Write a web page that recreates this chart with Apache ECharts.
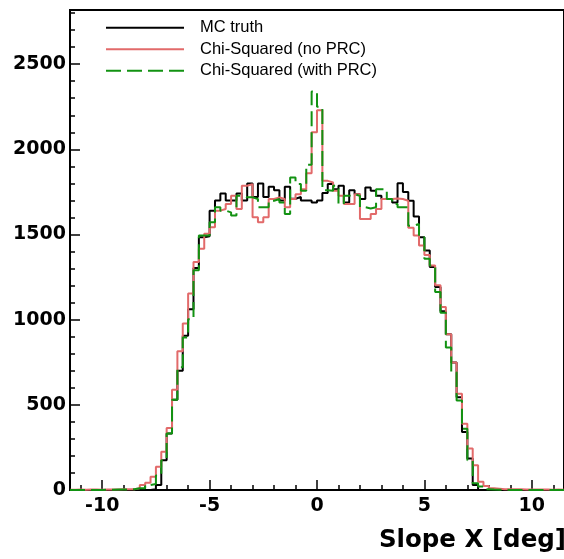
<!DOCTYPE html>
<html><head><meta charset="utf-8">
<script src="https://cdn.jsdelivr.net/npm/echarts@6/dist/echarts.min.js"></script>
<style>html,body{margin:0;padding:0;background:#fff}#c{width:564px;height:559px}</style>
</head><body><div id="c"></div>
<script>
// Histogram definition: 92 bins of width 0.25 from -11.5 to 11.5
const binLow = -11.5;
const binWidth = 0.25;

const mcTruth = [
  0,0,0,0,0,0,0,0,0,0, 0,0,0,0,0,5,30,175,331,530,
  700,905,1061,1303,1484,1490,1640,1700,1740,1700, 1700,1740,1700,1800,1720,1800,1720,1780,1760,1700,
  1780,1710,1720,1700,1700,1688,1700,1743,1796,1766, 1786,1688,1760,1737,1708,1776,1757,1727,1708,1708,
  1688,1801,1750,1698,1605,1484,1406,1309,1192,1050, 915,749,545,340,185,29,0,0,0,0,
  0,0,0,0,0,0,0,0,0,0, 0,0
];
const chiNoPRC = [
  2,3,2,3,3,2,3,3,3,5, 5,5,10,29,43,78,136,224,364,588,
  814,977,1153,1338,1416,1504,1542,1640,1650,1679, 1727,1650,1786,1796,1601,1572,1601,1708,1718,1708,
  1660,1708,1737,1766,1860,2100,2230,1815,1805,1757, 1727,1679,1679,1737,1591,1591,1620,1650,1708,1708,
  1712,1708,1698,1540,1494,1435,1380,1318,1202,1075, 915,749,565,389,243,146,49,23,10,8,
  5,5,4,4,3,3,3,3,3,2, 3,2
];
const chiWithPRC = [
  0,0,0,0,0,0,2,2,3,3, 3,5,10,10,29,35,85,175,331,530,
  720,895,1003,1290,1494,1494,1572,1660,1640,1630, 1611,1727,1718,1718,1708,1660,1660,1698,1708,1688,
  1620,1834,1796,1757,1910,2340,2250,1760,1757,1786, 1679,1727,1737,1727,1660,1653,1660,1766,1766,1708,
  1679,1660,1660,1552,1562,1484,1357,1318,1163,1040, 837,691,526,360,175,39,20,5,3,2,
  2,0,0,0,0,0,0,0,0,0, 0,0
];

const seriesNames = ['MC truth', 'Chi-Squared (no PRC)', 'Chi-Squared (with PRC)'];
const xMajorTicks = [-10, -5, 0, 5, 10];
const xMinorTicks = [-11,-9,-8,-7,-6,-4,-3,-2,-1,1,2,3,4,6,7,8,9,11];
const yMajorTicks = [0, 500, 1000, 1500, 2000, 2500];
const yMinorTicks = [100,200,300,400,600,700,800,900,1100,1200,1300,1400,1600,1700,1800,1900,2100,2200,2300,2400,2600,2700,2800];
const xTitle = 'Slope X [deg]';

const colors = ['#000000', '#e26a6a', '#129212'];
const dashes = [null, null, [15, 6]];

function toSteps(vals) {
  const pts = vals.map((v, i) => [binLow + i * binWidth, v]);
  pts.push([binLow + vals.length * binWidth, vals[vals.length - 1]]);
  return pts;
}

const chart = echarts.init(document.getElementById('c'), null, {renderer: 'canvas'});
const XMIN = -11.5, XMAX = 11.5, YMAX = 2818;
const labelFont = {fontFamily: 'DejaVu Sans', fontWeight: 'bold', fontSize: 19, color: '#000'};
const plain = v => String(v);

// legend drawn as graphic rows (line sample + text)
const legendRowsY = [27.7, 49.3, 70.7];
const legendGraphics = [];
seriesNames.forEach((name, i) => {
  const st = {stroke: colors[i], lineWidth: 2};
  if (dashes[i]) st.lineDash = dashes[i];
  legendGraphics.push({type: 'line', z: 10, shape: {x1: 106, y1: legendRowsY[i], x2: 184, y2: legendRowsY[i]}, style: st});
  legendGraphics.push({type: 'text', z: 10, x: 200, y: legendRowsY[i],
    style: {text: name, textVerticalAlign: 'middle', font: '16.5px "Liberation Sans"', fill: '#000'}});
});

chart.setOption({
  animation: false,
  backgroundColor: '#fff',
  grid: {left: 70, top: 10, width: 495.4, height: 480, show: true, borderColor: '#000', borderWidth: 2, backgroundColor: 'transparent'},
  xAxis: [
    {type: 'value', min: XMIN, max: XMAX, position: 'bottom',
     axisLine: {show: true, onZero: false, lineStyle: {color: '#000', width: 2}},
     axisTick: {show: true, inside: true, length: 10, customValues: xMajorTicks, lineStyle: {color: '#000', width: 1.5}},
     axisLabel: Object.assign({customValues: xMajorTicks, margin: 7, formatter: plain}, labelFont),
     splitLine: {show: false}},
    {type: 'value', min: XMIN, max: XMAX, position: 'bottom',
     axisLine: {show: false, onZero: false},
     axisTick: {show: true, inside: true, length: 5, customValues: xMinorTicks, lineStyle: {color: '#000', width: 1.5}},
     axisLabel: {show: false}, splitLine: {show: false}}
  ],
  yAxis: [
    {type: 'value', min: 0, max: YMAX, position: 'left',
     axisLine: {show: true, onZero: false, lineStyle: {color: '#000', width: 2}},
     axisTick: {show: true, inside: true, length: 10, customValues: yMajorTicks, lineStyle: {color: '#000', width: 1.5}},
     axisLabel: Object.assign({customValues: yMajorTicks, margin: 4, formatter: plain}, labelFont),
     splitLine: {show: false}},
    {type: 'value', min: 0, max: YMAX, position: 'left',
     axisLine: {show: false, onZero: false},
     axisTick: {show: true, inside: true, length: 5, customValues: yMinorTicks, lineStyle: {color: '#000', width: 1.5}},
     axisLabel: {show: false}, splitLine: {show: false}}
  ],
  series: [
    {name: seriesNames[0], type: 'line', step: 'end', symbol: 'none', data: toSteps(mcTruth),
     lineStyle: {color: colors[0], width: 2}, itemStyle: {color: colors[0]}, z: 2},
    {name: seriesNames[1], type: 'line', step: 'end', symbol: 'none', data: toSteps(chiNoPRC),
     lineStyle: {color: colors[1], width: 2}, itemStyle: {color: colors[1]}, z: 3},
    {name: seriesNames[2], type: 'line', step: 'end', symbol: 'none', data: toSteps(chiWithPRC),
     lineStyle: {color: colors[2], width: 2, type: dashes[2]}, itemStyle: {color: colors[2]}, z: 4}
  ],
  graphic: legendGraphics.concat([
    {type: 'text', x: 566, y: 541, z: 10,
     style: {text: xTitle, textAlign: 'right', textVerticalAlign: 'middle', font: 'bold 24.5px "DejaVu Sans"', fill: '#000'}}
  ])
});
</script></body></html>
